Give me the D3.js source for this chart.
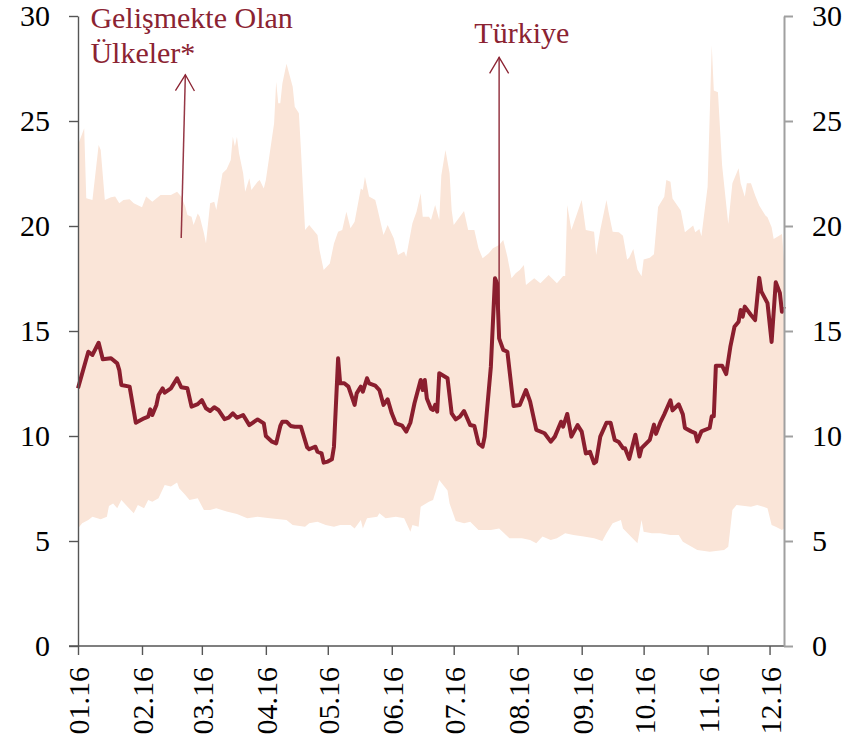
<!DOCTYPE html>
<html>
<head>
<meta charset="utf-8">
<script src="https://cdn.jsdelivr.net/npm/d3@7"></script>
<style>
  html, body { margin: 0; padding: 0; background: #fff; }
  svg text { font-family: "Liberation Serif", "DejaVu Serif", serif; }
</style>
</head>
<body>
<svg id="viz" width="863" height="739"></svg>
<script>
// days counted from 01.01.2016
const lineDays = [0,5,7,10,12,16,19,20,21,25,
  28,32,34,35,36,38,39,41,42,45,
  48,50,53,55,58,60,62,64,66,68,
  71,73,75,77,80,83,87,90,91,94,
  96,98,99,101,103,105,108,111,112,115,
  116,118,119,121,123,124,126,127,129,131,
  134,135,137,138,140,141,144,146,148,150,
  152,154,157,159,161,163,166,167,168,169,
  171,172,173,174,175,179,181,183,185,187,
  190,192,194,196,197,200,202,203,204,206,
  208,211,214,217,219,222,226,229,231,234,
  235,237,239,242,244,246,248,250,251,253,
  256,258,260,262,264,265,267,270,272,273,
  277,279,280,282,284,287,288,291,293,294,
  297,299,300,302,306,307,308,309,312,314,
  316,318,320,321,322,323,326,328,330,331,
  334,336,338,340,341,342];
const turkiye = [12.27,14.01,13.86,14.44,13.65,13.70,13.46,13.14,12.43,12.35,
  10.63,10.84,10.92,11.27,11.00,11.48,11.95,12.27,12.06,12.27,
  12.75,12.32,12.27,11.40,11.52,11.71,11.32,11.19,11.37,11.24,
  10.80,10.87,11.08,10.87,11.00,10.52,10.79,10.60,10.00,9.73,
  9.65,10.48,10.68,10.68,10.48,10.44,10.44,9.46,9.37,9.49,
  9.25,9.17,8.73,8.78,8.89,9.49,13.70,12.51,12.51,12.35,
  11.48,12.03,12.35,12.11,12.75,12.51,12.40,12.19,11.48,11.75,
  11.08,10.60,10.49,10.21,10.63,11.56,12.67,12.19,12.67,11.79,
  11.30,11.24,11.48,11.16,12.99,12.75,11.08,10.79,10.92,11.19,
  10.52,10.48,9.65,9.49,9.97,13.30,17.51,17.27,14.65,14.10,
  14.01,11.43,11.48,12.19,11.65,10.29,10.13,9.73,9.97,10.68,
  10.44,11.05,9.97,10.52,10.21,9.17,9.25,8.70,8.78,9.97,
  10.63,10.63,9.81,9.71,9.42,9.42,8.91,10.06,9.02,9.42,
  9.82,10.54,10.10,10.62,11.03,11.70,11.22,11.51,11.03,10.38,
  10.22,10.14,9.74,10.22,10.38,10.94,10.94,13.35,13.35,12.95,
  14.24,15.20,15.44,16.00,15.68,16.16,15.76,15.52,17.53,16.89,
  16.33,14.48,17.32,16.81,15.92,16.17];

// emerging markets range: upper edge
const upperDays = [0,3,4,7,10,11,13,16,18,20,
  22,25,27,31,33,36,40,45,48,50,
  52,53,55,56,58,59,61,62,64,66,
  67,70,72,74,75,76,77,78,80,81,
  83,84,87,88,90,91,95,96,97,98,
  99,101,104,105,107,108,110,112,116,117,
  119,122,124,126,128,130,132,134,137,138,
  139,141,144,145,148,150,153,155,158,159,
  162,164,166,167,170,171,173,175,176,178,
  180,181,182,187,189,192,194,196,199,201,
  204,206,208,210,212,214,216,217,221,224,
  228,232,235,236,237,239,244,246,250,251,
  253,256,257,259,262,264,266,267,269,271,
  273,274,277,279,281,284,285,287,288,292,
  294,298,299,301,302,305,307,308,310,312,
  315,317,320,321,323,324,326,328,330,333,
  334,336,337,341,342];
const upperVals = [23.86,24.65,21.32,21.24,23.86,23.62,21.24,21.37,21.40,21.08,
  21.24,21.27,21.08,20.89,21.40,21.16,21.48,21.48,21.63,21.40,
  20.92,20.52,20.44,20.05,20.60,20.44,19.65,19.17,21.08,21.16,
  20.76,22.51,22.70,23.14,24.25,23.78,24.25,23.46,22.51,21.63,
  22.27,21.71,22.11,22.19,21.79,22.19,24.89,26.87,25.84,25.84,
  26.79,27.73,26.63,25.68,25.37,23.62,19.81,20.05,19.57,18.86,
  17.90,18.22,19.17,19.73,19.81,20.68,19.89,20.20,21.79,21.71,
  22.35,21.40,21.24,20.84,19.57,20.05,19.41,18.62,18.78,18.54,
  20.13,20.68,21.56,20.44,20.44,20.29,21.00,20.29,22.40,23.62,
  22.51,20.76,20.05,20.72,19.81,19.81,18.94,18.46,18.70,18.94,
  19.10,19.33,18.54,17.51,17.75,17.90,18.14,17.19,17.51,17.27,
  17.67,17.27,17.62,17.62,21.00,19.81,21.24,19.81,19.73,18.62,
  19.81,21.24,20.68,19.73,19.70,19.54,18.41,18.49,18.90,17.93,
  17.61,18.41,18.49,18.66,20.90,21.39,22.19,22.11,21.31,20.74,
  19.70,20.02,19.70,19.86,19.51,21.87,28.61,26.45,26.37,22.91,
  20.10,22.03,22.75,22.03,21.39,22.03,22.03,21.47,20.98,20.50,
  20.42,19.94,19.38,19.62,18.41];

// lower edge
const lowerDays = [0,2,5,7,11,14,15,17,19,21,
  24,27,29,32,34,36,39,42,45,48,
  49,52,54,58,61,64,67,72,77,82,
  87,93,101,104,110,112,116,120,124,127,
  132,134,137,138,140,145,146,149,154,158,
  161,162,165,166,170,172,175,179,180,183,
  187,190,194,200,204,209,215,219,222,225,
  229,232,236,240,245,250,254,256,259,263,
  264,271,273,274,278,282,287,291,293,300,
  306,313,315,317,319,326,329,332,334,336,
  338,341,342];
const lowerVals = [5.60,5.84,6.00,6.16,6.03,6.16,6.67,6.79,6.56,6.95,
  6.63,6.32,6.71,6.56,6.95,6.87,7.03,7.67,7.59,7.78,
  7.51,7.19,6.95,7.03,6.48,6.48,6.56,6.40,6.29,6.08,
  6.16,6.08,6.00,5.76,5.68,5.84,5.92,5.76,5.68,5.76,
  5.76,5.60,6.00,5.60,6.08,6.16,6.32,6.08,6.16,6.08,
  5.44,5.76,5.68,6.63,6.87,6.95,7.90,7.40,6.79,5.95,
  5.84,5.92,5.52,5.52,5.60,5.13,5.13,5.05,4.89,5.21,
  5.05,5.13,5.37,5.29,5.21,5.13,5.00,5.37,5.84,6.00,
  5.60,4.89,6.00,5.44,5.37,5.37,5.29,5.29,4.97,4.57,
  4.49,4.57,4.73,6.48,6.71,6.63,6.71,6.63,6.56,5.76,
  5.68,5.52,5.60];

const yTicks = [0, 5, 10, 15, 20, 25, 30];

const svg = d3.select("#viz");
const margin = {top: 16, right: 79, bottom: 93, left: 78};
const width = 863, height = 739;

const start = new Date(2016, 0, 1);
const end = d3.timeDay.offset(start, 342);
const toDate = d => d3.timeDay.offset(start, d);

const x = d3.scaleTime().domain([start, end]).range([margin.left, width - margin.right]);
const y = d3.scaleLinear().domain([0, 30]).range([height - margin.bottom, margin.top]);

// band
const upperPts = upperDays.map((d, i) => [toDate(d), upperVals[i]]);
const lowerPts = lowerDays.map((d, i) => [toDate(d), lowerVals[i]]).reverse();
const pathLine = d3.line().x(p => x(p[0])).y(p => y(p[1]));

svg.append("path")
  .attr("d", pathLine(upperPts.concat(lowerPts)) + "Z")
  .attr("fill", "#fae5d8");

// Türkiye line
svg.append("path")
  .datum(lineDays.map((d, i) => [toDate(d), turkiye[i]]))
  .attr("d", pathLine)
  .attr("fill", "none")
  .attr("stroke", "#8a1e2e")
  .attr("stroke-width", 4)
  .attr("stroke-linejoin", "round");

// axes
const months = d3.timeMonth.range(start, d3.timeDay.offset(end, 1));

const xAxis = svg.append("g")
  .attr("transform", `translate(0,${height - margin.bottom})`)
  .call(d3.axisBottom(x).tickValues(months).tickFormat(d3.timeFormat("%m.%y")).tickSize(9).tickSizeOuter(0));
xAxis.select(".domain").attr("stroke", "#555").attr("stroke-width", 1.4)
  .attr("d", `M${margin.left - 9},0H${width - margin.right}`);
xAxis.selectAll(".tick line").attr("stroke", "#555").attr("stroke-width", 1.4);
xAxis.selectAll(".tick text")
  .attr("font-size", 30)
  .attr("font-family", "Liberation Serif")
  .attr("fill", "#000")
  .attr("text-anchor", "end")
  .attr("transform", "rotate(-90)")
  .attr("x", -21)
  .attr("y", 0)
  .attr("dy", "0.35em");

const yLeft = svg.append("g")
  .attr("transform", `translate(${margin.left},0)`)
  .call(d3.axisLeft(y).tickValues(yTicks).tickSize(9).tickSizeOuter(0).tickPadding(19));
yLeft.select(".domain").attr("stroke", "#555").attr("stroke-width", 1.4);
yLeft.selectAll(".tick line").attr("stroke", "#555").attr("stroke-width", 1.4);
yLeft.selectAll(".tick text").attr("font-size", 30).attr("font-family", "Liberation Serif").attr("fill", "#000");

const yRight = svg.append("g")
  .attr("transform", `translate(${width - margin.right},0)`)
  .call(d3.axisRight(y).tickValues(yTicks).tickSize(9).tickSizeOuter(0).tickPadding(19));
yRight.select(".domain").attr("stroke", "#a0a0a0").attr("stroke-width", 2);
yRight.selectAll(".tick line").attr("stroke", "#a0a0a0").attr("stroke-width", 2);
yRight.selectAll(".tick text").attr("font-size", 30).attr("font-family", "Liberation Serif").attr("fill", "#000");

// annotations
const annoColor = "#8b2332";
function arrow(d0, v0, d1, v1) {
  const x0 = x(toDate(d0)), y0 = y(v0), x1 = x(toDate(d1)), y1 = y(v1);
  const len = Math.hypot(x1 - x0, y1 - y0);
  const ux = (x1 - x0) / len, uy = (y1 - y0) / len;
  const hx = x1 - ux * 16, hy = y1 - uy * 16;
  svg.append("line")
    .attr("x1", x0).attr("y1", y0).attr("x2", x1).attr("y2", y1)
    .attr("stroke", annoColor).attr("stroke-width", 1.5).attr("opacity", 0.9);
  svg.append("path")
    .attr("d", `M${hx - uy * 9.5},${hy + ux * 9.5}L${x1},${y1}L${hx + uy * 9.5},${hy - ux * 9.5}`)
    .attr("fill", "none").attr("stroke", annoColor).attr("stroke-width", 1.3);
}
arrow(50.6, 19.43, 52.6, 27.2);
arrow(204.5, 16.0, 204.5, 28.03);

const labels = [
  {text: "Gelişmekte Olan", day: 6.8, value: 29.43},
  {text: "Ülkeler*", day: 6.8, value: 27.76},
  {text: "Türkiye", day: 192.8, value: 28.73}
];
svg.selectAll(".anno")
  .data(labels)
  .enter()
  .append("text")
  .attr("class", "anno")
  .attr("x", d => x(toDate(d.day)))
  .attr("y", d => y(d.value))
  .attr("font-size", 30)
  .attr("fill", annoColor)
  .text(d => d.text);
</script>
</body>
</html>
